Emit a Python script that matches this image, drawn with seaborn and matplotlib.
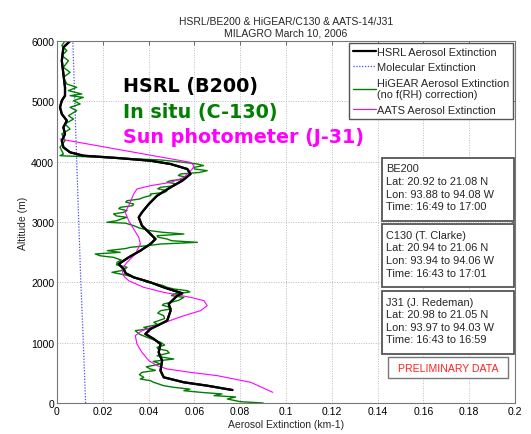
import matplotlib
matplotlib.use("Agg")
import matplotlib.pyplot as plt
import seaborn as sns
import pandas as pd
from matplotlib.patches import Rectangle
from matplotlib.ticker import FuncFormatter

# HSRL (B200) aerosol extinction profile
hsrl_alt = [215, 287, 343, 426, 536, 702, 840, 978, 1061, 1144, 1227, 1364, 1530, 1641,
            1779, 1818, 1917, 2000, 2083, 2150, 2221, 2304, 2414, 2525, 2635, 2718, 2829,
            2939, 3077, 3160, 3298, 3436, 3575, 3685, 3796, 3878, 3961, 4016, 4061, 4099,
            4155, 4238, 4348, 4459, 4569, 4680, 4790, 4901, 5011, 5094, 5232, 5453, 5674,
            5895, 6000]
hsrl_ext = [0.0766, 0.0656, 0.0554, 0.0466, 0.0452, 0.0459, 0.0444, 0.0452, 0.0423, 0.0386,
            0.0408, 0.0481, 0.0496, 0.0488, 0.0525, 0.0547, 0.0466, 0.0408, 0.0335, 0.0300,
            0.0291, 0.0269, 0.0313, 0.0364, 0.0408, 0.0430, 0.0401, 0.0371, 0.0357, 0.0371,
            0.0401, 0.0437, 0.0496, 0.0547, 0.0583, 0.0569, 0.0496, 0.0408, 0.0262, 0.0115,
            0.0057, 0.0028, 0.0021, 0.0035, 0.0028, 0.0043, 0.0021, 0.0013, 0.0021, 0.0035,
            0.0035, 0.0028, 0.0021, 0.0028, 0.0057]

# molecular extinction
mol_alt = [0, 1000, 2000, 3000, 4000, 5000, 6000]
mol_ext = [0.0125, 0.0115, 0.0104, 0.0095, 0.0086, 0.0078, 0.0069]

# HiGEAR in situ (C-130)
situ_alt = [0, 22, 66, 100, 122, 150, 177, 204, 230, 260, 287, 343, 370, 398, 426, 470, 508,
            540, 564, 600, 646, 690, 729, 760, 784, 830, 867, 900, 923, 960, 1006, 1050, 1089,
            1140, 1199, 1230, 1254, 1300, 1337, 1400, 1447, 1490, 1530, 1560, 1585, 1620, 1641,
            1700, 1751, 1780, 1807, 1840, 1862, 1890, 1917, 1950, 1972, 2000, 2027, 2060, 2083,
            2120, 2166, 2200, 2249, 2290, 2331, 2370, 2414, 2440, 2470, 2497, 2525, 2560, 2580,
            2610, 2635, 2663, 2690, 2718, 2750, 2773, 2801, 2830, 2856, 2900, 2939, 2980, 2995,
            3022, 3050, 3077, 3100, 3133, 3160, 3188, 3220, 3243, 3270, 3298, 3330, 3353, 3380,
            3409, 3440, 3464, 3490, 3519, 3550, 3575, 3600, 3630, 3660, 3685, 3710, 3740, 3770,
            3796, 3820, 3851, 3880, 3906, 3935, 3961, 3989, 4028, 4061, 4083, 4099, 4127, 4238,
            4348, 4459, 4541, 4624, 4707, 4762, 4845, 4901, 4956, 5011, 5066, 5094, 5122, 5177,
            5232, 5287, 5398, 5480, 5563, 5674, 5757, 5840, 5923, 6000]
situ_ext = [0.090, 0.080, 0.0744, 0.078, 0.0686, 0.072, 0.0627, 0.0554, 0.058, 0.051, 0.0466,
            0.0422, 0.0408, 0.0364, 0.0379, 0.036, 0.0371, 0.043, 0.0408, 0.039, 0.0452, 0.042,
            0.051, 0.046, 0.0437, 0.049, 0.0481, 0.044, 0.0437, 0.047, 0.0452, 0.042, 0.0393,
            0.036, 0.0342, 0.040, 0.0379, 0.044, 0.0423, 0.047, 0.0466, 0.044, 0.0452, 0.050,
            0.0496, 0.046, 0.0466, 0.053, 0.0554, 0.050, 0.051, 0.058, 0.0569, 0.051, 0.0481,
            0.046, 0.0437, 0.0393, 0.0379, 0.036, 0.0335, 0.030, 0.024, 0.029, 0.0306, 0.026,
            0.0262, 0.028, 0.0247, 0.0189, 0.0167, 0.0276, 0.022, 0.030, 0.032, 0.040, 0.0452,
            0.0613, 0.050, 0.0481, 0.044, 0.0437, 0.0554, 0.046, 0.0408, 0.036, 0.0335, 0.030,
            0.0218, 0.0262, 0.028, 0.0306, 0.026, 0.0247, 0.029, 0.0306, 0.027, 0.0276, 0.033,
            0.0335, 0.030, 0.0306, 0.036, 0.0379, 0.041, 0.0408, 0.047, 0.0481, 0.044, 0.0452,
            0.051, 0.0525, 0.048, 0.0496, 0.056, 0.0569, 0.053, 0.0539, 0.062, 0.0656, 0.060,
            0.0598, 0.064, 0.0613, 0.0554, 0.0452, 0.0262, 0.0115, 0.0013, 0.0028, 0.0013,
            0.0035, 0.0021, 0.0057, 0.0035, 0.0072, 0.0050, 0.0086, 0.0057, 0.0101, 0.0072,
            0.0115, 0.0057, 0.0108, 0.0050, 0.0086, 0.0043, 0.0028, 0.0057, 0.0028, 0.0050,
            0.0021, 0.0043, 0.0021, 0.0035]

# AATS sun photometer (J-31)
aats_alt = [177, 343, 453, 508, 564, 619, 702, 840, 978, 1116, 1199, 1309, 1447, 1530, 1613,
            1696, 1751, 1834, 1917, 2027, 2110, 2221, 2331, 2470, 2635, 2746, 2884, 3022, 3160,
            3270, 3464, 3547, 3602, 3657, 3740, 3878, 3933, 3989, 4375]
aats_ext = [0.0942, 0.0846, 0.0700, 0.0583, 0.0481, 0.0437, 0.0401, 0.0371, 0.0349, 0.0342,
            0.0371, 0.0452, 0.0554, 0.0627, 0.0656, 0.0642, 0.0583, 0.0466, 0.0379, 0.0313,
            0.0290, 0.0284, 0.0306, 0.0342, 0.0364, 0.0357, 0.0335, 0.0313, 0.0298, 0.0313,
            0.0335, 0.0349, 0.0408, 0.0496, 0.0554, 0.0591, 0.0598, 0.0583, 0.0013]

x_ticks = [0, 0.02, 0.04, 0.06, 0.08, 0.1, 0.12, 0.14, 0.16, 0.18, 0.2]
y_ticks = [0, 1000, 2000, 3000, 4000, 5000, 6000]

flight_info = [
    "BE200\nLat: 20.92 to 21.08 N\nLon: 93.88 to 94.08 W\nTime: 16:49 to 17:00",
    "C130 (T. Clarke)\nLat: 20.94 to 21.06 N\nLon: 93.94 to 94.06 W\nTime: 16:43 to 17:01",
    "J31 (J. Redeman)\nLat: 20.98 to 21.05 N\nLon: 93.97 to 94.03 W\nTime: 16:43 to 16:59",
]

sns.set_style("white")
plt.rcParams['font.family'] = ['Liberation Sans', 'DejaVu Sans']

fig = plt.figure(figsize=(5.31, 4.35), dpi=100)
ax = fig.add_axes([57 / 531, 1 - 404 / 435, (515 - 57) / 531, (404 - 42) / 435])

green = "#007f00"
sns.lineplot(x=hsrl_ext, y=hsrl_alt, sort=False, estimator=None, color="black", lw=1.6,
             ax=ax, label="HSRL Aerosol Extinction")
sns.lineplot(x=mol_ext, y=mol_alt, sort=False, estimator=None, color="#4a4aff", lw=0.9,
             linestyle=(0, (1, 1.3)), ax=ax, label="Molecular Extinction")
sns.lineplot(x=situ_ext, y=situ_alt, sort=False, estimator=None, color=green, lw=1.0,
             ax=ax, label="HiGEAR Aerosol Extinction\n(no f(RH) correction)")
sns.lineplot(x=aats_ext, y=aats_alt, sort=False, estimator=None, color="#ff00ff", lw=0.8,
             ax=ax, label="AATS Aerosol Extinction")
# redraw black on top
sns.lineplot(x=hsrl_ext, y=hsrl_alt, sort=False, estimator=None, color="black", lw=1.6,
             ax=ax, legend=False)

ax.set_xlim(0, 0.2)
ax.set_ylim(0, 6000)
ax.set_xticks(x_ticks)
ax.set_yticks(y_ticks)
ax.xaxis.set_major_formatter(FuncFormatter(lambda v, p: f"{v:g}"))
ax.tick_params(direction="in", length=3, labelsize=7.5, width=0.6, colors="#555555",
               labelcolor="black", top=True, right=True, pad=2)
ax.grid(True, linestyle=(0, (1, 1.5)), color="#bbbbbb", lw=0.7)
for s in ax.spines.values():
    s.set_color("#777777")
    s.set_linewidth(0.8)

ax.set_xlabel("Aerosol Extinction (km-1)", fontsize=7.5, labelpad=2)
ax.set_ylabel("Altitude (m)", fontsize=7.5, labelpad=2)
ax.set_title("HSRL/BE200 & HiGEAR/C130 & AATS-14/J31\nMILAGRO March 10, 2006",
             fontsize=7.5, linespacing=1.2, pad=4)

leg = ax.legend(loc="upper right", bbox_to_anchor=(0.9965, 0.995), fontsize=7.9,
                handlelength=2.1, handletextpad=0.1, labelspacing=0.5, borderpad=0.35,
                borderaxespad=0.0, fancybox=False, framealpha=1)
leg.get_frame().set_edgecolor("#555555")
leg.get_frame().set_linewidth(1.0)

big = dict(family="DejaVu Sans", fontweight="bold", fontsize=13.8, va="center", ha="left",
           transform=ax.transAxes)
ax.text(0.144, 0.878, "HSRL (B200)", color="black", **big)
ax.text(0.144, 0.804, "In situ (C-130)", color=green, **big)
ax.text(0.144, 0.735, "Sun photometer (J-31)", color="#ff00ff", **big)

box_y = [(0.503, 0.677), (0.320, 0.494), (0.135, 0.309)]
for txt, (y0, y1) in zip(flight_info, box_y):
    ax.add_patch(Rectangle((0.710, y0), 0.288, y1 - y0, transform=ax.transAxes,
                           facecolor="white", edgecolor="#555555", lw=1.3, zorder=5))
    ax.text(0.719, y1 - 0.015, txt, transform=ax.transAxes, fontsize=7.9, va="top",
            ha="left", linespacing=1.33, zorder=6)

ax.add_patch(Rectangle((0.723, 0.069), 0.262, 0.058, transform=ax.transAxes,
                       facecolor="white", edgecolor="#777777", lw=1.0, zorder=5))
ax.text(0.854, 0.098, "PRELIMINARY DATA", transform=ax.transAxes, fontsize=7.6,
        color="#ff2020", ha="center", va="center", zorder=6)

fig.savefig("out.png", dpi=100)
